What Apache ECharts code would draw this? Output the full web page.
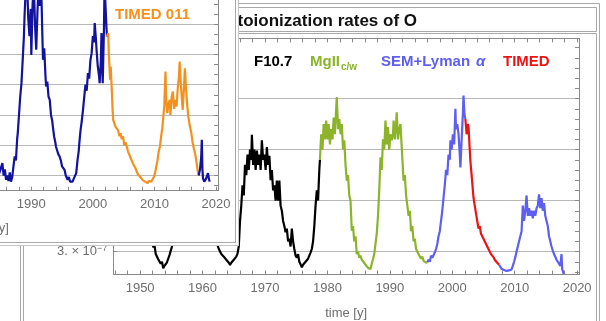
<!DOCTYPE html>
<html><head><meta charset="utf-8">
<script src="https://cdn.jsdelivr.net/npm/echarts@6/dist/echarts.min.js"></script>
<style>html,body{margin:0;padding:0;background:#fff}#c{width:606px;height:321px}</style>
</head><body><div id="c"></div>
<script>
// ---- tick labels ----
const xTickLabels = [1950,1960,1970,1980,1990,2000,2010,2020];
const backYLabels = [3,4,5,6];          // ×10^-7
const frontYGrid = [3,4,5,6,7,8];

// ---- back panel series: [year, rate ×10^-7] ----
const f107 = [[1947.0,5.6],[1947.3,6.0],[1947.6,5.5],[1948.0,5.9],[1948.4,5.3],[1948.8,5.6],[1949.2,5.2],[1949.6,5.5],[1950.0,4.8],[1950.4,4.5],[1950.8,4.2],[1951.2,4.0],[1951.6,3.7],[1951.9,3.4],
[1952.1,3.08],[1952.3,3.12],[1952.5,2.95],[1952.7,2.98],[1952.9,2.85],[1953.1,2.88],[1953.3,2.76],[1953.5,2.80],[1953.7,2.67],[1953.9,2.72],[1954.1,2.70],[1954.3,2.79],[1954.5,2.76],[1954.7,2.93],[1954.9,2.90],[1955.1,3.10],[1955.3,3.35],[1955.6,3.8],[1956.0,4.5],[1956.4,5.3],[1956.8,6.0],[1957.2,6.5],[1957.6,6.9],[1958.0,6.6],[1958.3,6.9],[1958.7,6.4],[1959.0,6.7],[1959.4,6.0],[1959.8,6.2],[1960.2,5.5],[1960.6,5.2],[1961.0,4.6],[1961.4,4.3],[1961.8,3.8],[1962.1,3.5],
[1962.4,3.12],[1962.6,3.05],[1962.8,3.08],[1963.0,2.95],[1963.2,2.98],[1963.4,2.90],[1963.6,2.93],[1963.8,2.84],[1964.0,2.86],[1964.2,2.78],[1964.4,2.74],[1964.6,2.78],[1964.8,2.80],[1965.0,2.84],[1965.2,2.82],[1965.4,2.90],[1965.6,2.96],[1965.8,3.10],[1966.0,3.6],[1966.2,3.9],[1966.4,4.3],[1966.6,4.1],[1966.8,4.7],[1967.0,4.5],[1967.2,4.9],[1967.4,4.6],[1967.6,5.0],[1967.8,4.8],[1967.9,5.29],[1968.1,4.7],[1968.3,5.0],[1968.5,4.6],[1968.7,4.98],[1968.9,4.7],[1969.1,4.9],[1969.3,4.6],[1969.5,5.18],[1969.7,4.8],[1969.9,4.9],[1970.1,4.6],[1970.3,5.05],[1970.5,4.7],[1970.7,4.88],[1970.9,4.4],[1971.1,4.6],[1971.3,4.2],[1971.5,4.3],[1971.7,4.0],[1971.9,4.39],[1972.1,4.0],[1972.3,4.39],[1972.5,3.9],[1972.7,3.8],[1972.9,3.6],[1973.1,3.5],[1973.3,3.38],[1973.5,3.45],[1973.7,3.2],[1973.9,3.25],[1974.1,3.1],[1974.3,3.45],[1974.5,3.2],[1974.7,3.05],[1974.9,2.92],[1975.1,2.88],[1975.3,2.95],[1975.5,2.80],[1975.7,2.75],[1975.9,2.69],[1976.1,2.74],[1976.3,2.72],[1976.5,2.80],[1976.7,2.78],[1976.9,2.86],[1977.1,2.92],[1977.3,2.98],[1977.5,3.05],[1977.7,3.2],[1977.9,3.5],[1978.1,3.9],[1978.3,4.2],[1978.5,4.0],[1978.7,4.6],[1978.8,4.8]];

const mg2 = [[1978.8,4.8],[1979.0,5.3],[1979.2,5.0],[1979.4,5.5],[1979.6,5.2],[1979.8,5.57],[1980.0,5.2],[1980.2,5.5],[1980.4,5.1],[1980.6,5.4],[1980.8,5.2],[1981.0,5.63],[1981.2,5.3],[1981.4,5.8],[1981.5,6.03],[1981.7,5.4],[1981.9,5.6],[1982.1,5.3],[1982.3,5.5],[1982.5,5.0],[1982.7,5.18],[1982.9,4.7],[1983.1,4.39],[1983.3,4.5],[1983.5,4.1],[1983.7,4.0],[1983.9,3.41],[1984.1,3.5],[1984.3,3.2],[1984.5,3.3],[1984.7,2.95],[1984.9,3.0],[1985.1,2.88],[1985.3,2.92],[1985.5,2.84],[1985.7,2.86],[1985.9,2.78],[1986.1,2.74],[1986.3,2.76],[1986.5,2.68],[1986.7,2.70],[1986.9,2.66],[1987.1,2.76],[1987.3,2.85],[1987.5,2.95],[1987.7,3.15],[1987.9,3.35],[1988.1,3.7],[1988.3,4.2],[1988.5,4.85],[1988.7,4.6],[1988.9,5.2],[1989.1,5.0],[1989.3,5.57],[1989.5,5.1],[1989.7,5.44],[1989.9,5.0],[1990.1,5.3],[1990.3,5.18],[1990.5,5.3],[1990.6,5.57],[1990.8,5.2],[1991.0,5.5],[1991.1,5.73],[1991.3,5.2],[1991.5,5.4],[1991.7,5.5],[1991.9,5.05],[1992.1,4.6],[1992.2,4.39],[1992.4,4.5],[1992.6,4.1],[1992.8,3.9],[1993.0,3.7],[1993.2,3.8],[1993.4,3.4],[1993.6,3.5],[1993.8,3.2],[1994.0,3.25],[1994.2,3.05],[1994.4,3.02],[1994.6,2.95],[1994.8,2.98],[1995.0,2.86],[1995.2,2.9],[1995.4,2.82],[1995.6,2.85],[1995.8,2.78],[1996.0,2.79]];

const semLyaA = [[1996.0,2.79],[1996.2,2.84],[1996.4,2.80],[1996.6,2.92],[1996.8,2.88],[1997.0,2.89],[1997.2,2.98],[1997.4,3.05],[1997.6,3.15],[1997.8,3.3],[1998.0,3.4],[1998.2,3.6],[1998.4,3.8],[1998.6,4.06],[1998.8,4.3],[1999.0,4.6],[1999.2,4.5],[1999.4,4.9],[1999.6,4.8],[1999.7,5.18],[1999.9,5.0],[2000.1,5.3],[2000.3,5.1],[2000.5,5.8],[2000.6,5.4],[2000.8,5.5],[2001.0,5.31],[2001.2,4.9],[2001.3,4.65],[2001.5,5.2],[2001.7,5.7],[2001.8,6.06],[2001.95,5.7],[2002.1,5.6]];

const timed = [[2002.1,5.6],[2002.3,5.3],[2002.5,5.5],[2002.6,5.44],[2002.8,5.0],[2002.9,4.78],[2003.1,4.5],[2003.3,4.2],[2003.4,4.06],[2003.6,3.9],[2003.8,3.75],[2004.0,3.6],[2004.2,3.45],[2004.4,3.5],[2004.6,3.35],[2004.8,3.38],[2005.0,3.25],[2005.2,3.28],[2005.4,3.15],[2005.6,3.15],[2005.8,3.05],[2006.0,3.02],[2006.2,2.95],[2006.4,2.92],[2006.6,2.89],[2006.8,2.84],[2007.0,2.82],[2007.2,2.78],[2007.4,2.76],[2007.5,2.74]];

const semLyaB = [[2007.5,2.74],[2007.7,2.70],[2007.9,2.66],[2008.1,2.68],[2008.3,2.64],[2008.5,2.66],[2008.7,2.62],[2008.9,2.64],[2009.1,2.63],[2009.3,2.66],[2009.5,2.65],[2009.7,2.72],[2009.9,2.80],[2010.1,2.89],[2010.3,3.0],[2010.5,3.1],[2010.7,3.2],[2010.9,3.3],[2011.1,3.4],[2011.3,3.9],[2011.5,3.6],[2011.7,3.8],[2011.9,4.1],[2012.1,3.7],[2012.3,3.85],[2012.5,3.7],[2012.7,3.8],[2012.9,3.65],[2013.1,3.8],[2013.3,3.7],[2013.5,3.85],[2013.7,3.9],[2013.9,4.12],[2014.1,3.85],[2014.3,4.05],[2014.5,3.8],[2014.7,3.95],[2014.9,3.7],[2015.1,3.6],[2015.3,3.5],[2015.5,3.3],[2015.7,3.2],[2015.9,3.1],[2016.1,3.02],[2016.3,2.95],[2016.5,2.9],[2016.7,2.84],[2016.9,2.8],[2017.1,2.76],[2017.3,2.72],[2017.5,2.95],[2017.6,2.66],[2017.8,2.58],[2017.9,2.56]];

// ---- inset panel series ----
const insetBlueA = [[1984.5,3.3],[1984.8,3.08],[1985.0,3.2],[1985.3,3.41],[1985.5,3.0],[1985.7,3.2],[1985.9,2.86],[1986.1,3.0],[1986.3,2.82],[1986.5,3.1],[1986.7,2.8],[1986.9,2.95],[1987.1,3.3],[1987.3,3.63],[1987.5,3.5],[1987.7,4.2],[1987.8,4.4],[1988.0,5.0],[1988.2,5.6],[1988.4,6.05],[1988.6,6.8],[1988.8,7.6],[1988.9,8.25],[1989.1,9.2],[1989.3,9.5],[1989.5,8.2],[1989.7,7.6],[1989.9,8.5],[1990.0,6.98],[1990.2,8.6],[1990.4,9.4],[1990.6,8.0],[1990.8,7.15],[1991.0,8.4],[1991.2,9.4],[1991.4,8.6],[1991.6,9.3],[1991.8,7.6],[1991.9,6.82],[1992.1,7.2],[1992.3,6.3],[1992.4,5.94],[1992.6,6.1],[1992.8,5.6],[1993.0,5.5],[1993.2,5.0],[1993.4,4.8],[1993.5,4.62],[1993.7,4.3],[1993.9,4.1],[1994.0,3.96],[1994.2,3.9],[1994.4,3.7],[1994.6,3.63],[1994.8,3.5],[1995.0,3.3],[1995.2,3.35],[1995.4,3.19],[1995.6,3.0],[1995.9,2.86],[1996.1,2.95],[1996.3,2.8],[1996.5,2.85],[1996.7,2.8],[1996.9,2.9],[1997.1,2.85],[1997.3,3.08],[1997.5,3.5],[1997.7,3.8],[1997.8,4.07],[1998.0,4.5],[1998.2,4.8],[1998.4,5.17],[1998.6,5.6],[1998.8,6.0],[1999.0,5.8],[1999.2,6.38],[1999.4,6.2],[1999.6,6.8],[1999.8,7.04],[2000.0,7.6],[2000.2,7.4],[2000.3,8.03],[2000.5,7.5],[2000.6,7.15],[2000.8,6.6],[2001.0,6.3],[2001.1,6.05],[2001.3,6.8],[2001.4,7.7],[2001.5,6.8],[2001.6,6.05],[2001.8,7.8],[2001.9,9.3],[2002.1,8.4],[2002.2,7.92],[2002.3,7.59]];

const timed011 = [[2002.3,7.59],[2002.5,7.7],[2002.6,7.0],[2002.8,6.16],[2002.9,6.6],[2003.1,5.72],[2003.2,5.2],[2003.3,4.84],[2003.5,4.9],[2003.7,4.6],[2003.9,4.62],[2004.1,4.5],[2004.3,4.3],[2004.5,4.4],[2004.7,4.2],[2004.9,4.3],[2005.1,4.0],[2005.3,4.1],[2005.5,3.96],[2005.7,3.8],[2005.9,3.85],[2006.1,3.6],[2006.3,3.63],[2006.5,3.4],[2006.7,3.45],[2006.9,3.25],[2007.1,3.19],[2007.3,3.05],[2007.5,3.1],[2007.7,2.95],[2007.9,2.97],[2008.1,2.85],[2008.3,2.88],[2008.5,2.8],[2008.7,2.8],[2008.9,2.75],[2009.1,2.82],[2009.3,2.76],[2009.5,2.8],[2009.7,2.85],[2009.9,2.95],[2010.1,3.08],[2010.3,3.3],[2010.5,3.5],[2010.7,3.8],[2010.9,3.96],[2011.1,4.3],[2011.3,4.6],[2011.4,4.84],[2011.6,5.3],[2011.8,6.43],[2011.9,5.5],[2012.1,5.06],[2012.3,5.4],[2012.5,5.5],[2012.6,5.0],[2012.8,5.6],[2013.0,5.77],[2013.2,5.2],[2013.4,5.5],[2013.6,5.28],[2013.8,5.9],[2014.0,6.3],[2014.1,6.76],[2014.3,6.0],[2014.5,5.4],[2014.6,5.17],[2014.8,5.9],[2014.95,6.54],[2015.1,6.0],[2015.3,5.4],[2015.5,4.95],[2015.7,4.7],[2015.9,4.5],[2016.0,4.4],[2016.2,4.1],[2016.4,3.9],[2016.6,3.74],[2016.8,3.5],[2017.0,3.2],[2017.1,3.08],[2017.2,3.0]];

const insetBlueB = [[2017.2,3.0],[2017.4,3.2],[2017.6,3.6],[2017.7,4.18],[2017.8,3.2],[2017.9,2.9],[2018.1,2.8],[2018.2,2.75],[2018.4,2.9],[2018.6,2.95],[2018.7,3.08],[2018.9,2.85],[2019.0,2.8]];

// ---- tick position lists ----
const evenYears = []; for (let y = 1946; y <= 2020; y += 2) evenYears.push(y);
const backMinor = []; for (let k = 13; k <= 35; k++) backMinor.push(+(k * 0.2).toFixed(2));
const frontMinor = []; for (let k = 8; k <= 27; k++) frontMinor.push(k / 3);

const FONT = '"Liberation Sans", Arial, sans-serif';
const AX = '#8a8a8a', LBL = '#6e6e6e', GRID = '#b8b8b8';

const chart = echarts.init(document.getElementById('c'), null, {renderer: 'canvas'});

function xAx(grid, min, max, pos, z, labels, extra) {
  return Object.assign({
    gridIndex: grid, type: 'value', min: min, max: max, position: pos, z: z,
    axisLine: {show: true, onZero: false, lineStyle: {color: AX, width: 1}},
    axisTick: {show: true, inside: true, length: 4, customValues: evenYears, lineStyle: {color: AX}},
    axisLabel: labels ? {show: true, customValues: xTickLabels, color: LBL, fontSize: 13, fontFamily: FONT, margin: 7,
      formatter: v => String(v)} : {show: false},
    splitLine: {show: false}
  }, extra || {});
}

const option = {
  animation: false,
  backgroundColor: '#fff',
  grid: [
    {left: 113.3, width: 465.7, top: 38.4, height: 236.1, containLabel: false, outerBoundsMode: 'none'},
    {left: -242, width: 460, top: -10, height: 200.7, containLabel: false, outerBoundsMode: 'none'}
  ],
  xAxis: [
    xAx(0, 1945.7, 2020.3, 'bottom', 1, true, {name: 'time [y]', nameLocation: 'middle', nameGap: 32,
      nameTextStyle: {color: LBL, fontSize: 13, fontFamily: FONT}}),
    xAx(0, 1945.7, 2020.3, 'top', 1, false),
    xAx(1, 1945.6, 2020.33, 'bottom', 11, true, {name: 'time [y]', nameLocation: 'middle', nameGap: 31,
      nameTextStyle: {color: LBL, fontSize: 13, fontFamily: FONT}})
  ],
  yAxis: [
    {gridIndex: 0, type: 'value', min: 2.55, max: 7.18, position: 'left', z: 1,
      axisLine: {show: true, onZero: false, lineStyle: {color: AX}},
      axisTick: {show: true, inside: true, length: 4, customValues: backYLabels, lineStyle: {color: AX}},
      axisLabel: {show: true, customValues: backYLabels, margin: 6,
        formatter: v => '{b|' + v + '. × 10}{s|−7}',
        rich: {b: {color: LBL, fontSize: 13, fontFamily: FONT}, s: {color: LBL, fontSize: 9, fontFamily: FONT, verticalAlign: 'top', padding: [0, 0, 6, 0]}}},
      splitLine: {show: true, lineStyle: {color: GRID, width: 1}}},
    {gridIndex: 0, type: 'value', min: 2.55, max: 7.18, position: 'right', z: 1,
      axisLine: {show: true, onZero: false, lineStyle: {color: AX}},
      axisTick: {show: true, inside: true, length: 4, customValues: backMinor, lineStyle: {color: AX}},
      axisLabel: {show: false}, splitLine: {show: false}},
    {gridIndex: 1, type: 'value', min: 2.5, max: 9.124, position: 'left', z: 11,
      axisLine: {show: true, onZero: false, lineStyle: {color: AX}},
      axisTick: {show: true, inside: true, length: 4, customValues: frontYGrid, lineStyle: {color: AX}},
      axisLabel: {show: false},
      splitLine: {show: true, lineStyle: {color: GRID, width: 1}}},
    {gridIndex: 1, type: 'value', min: 2.5, max: 9.124, position: 'right', z: 11,
      axisLine: {show: true, onZero: false, lineStyle: {color: AX}},
      axisTick: {show: true, inside: true, length: 4, customValues: frontMinor, lineStyle: {color: AX}},
      axisLabel: {show: false}, splitLine: {show: false}}
  ],
  series: [
    {name: 'F10.7', data: f107, color: '#000000', xAxisIndex: 0, yAxisIndex: 0, z: 3},
    {name: 'MgII c/w', data: mg2, color: '#8bb42a', xAxisIndex: 0, yAxisIndex: 0, z: 3},
    {name: 'SEM+Lyman α', data: semLyaA, color: '#5e5ef0', xAxisIndex: 0, yAxisIndex: 0, z: 3},
    {name: 'TIMED', data: timed, color: '#ec1313', xAxisIndex: 0, yAxisIndex: 0, z: 3},
    {name: 'SEM+Lyman α (2)', data: semLyaB, color: '#5e5ef0', xAxisIndex: 0, yAxisIndex: 0, z: 3},
    {name: 'inset A', data: insetBlueA, color: '#12129e', xAxisIndex: 2, yAxisIndex: 2, z: 12},
    {name: 'TIMED 011', data: timed011, color: '#f4901e', xAxisIndex: 2, yAxisIndex: 2, z: 12},
    {name: 'inset B', data: insetBlueB, color: '#12129e', xAxisIndex: 2, yAxisIndex: 2, z: 12}
  ].map(s => Object.assign({type: 'line', showSymbol: false, symbol: 'none', clip: true,
      lineStyle: {color: s.color, width: 2.2}, emphasis: {disabled: true}}, s)),
  graphic: {elements: [
    {type: 'rect', z: 1, silent: true, shape: {x: 20.5, y: 3.5, width: 579, height: 330}, style: {fill: 'none', stroke: '#a8a8a8', lineWidth: 1}},
    {type: 'rect', z: 1, silent: true, shape: {x: 23.5, y: 7.5, width: 573, height: 24}, style: {fill: 'none', stroke: '#a8a8a8', lineWidth: 1}},
    {type: 'rect', z: 1, silent: true, shape: {x: 23.5, y: 33.5, width: 573, height: 300}, style: {fill: 'none', stroke: '#a8a8a8', lineWidth: 1}},
    {type: 'text', z: 2, silent: true, x: 417, y: 21, style: {text: 'Photoionization rates of O', font: 'bold 17px ' + FONT, fill: '#111',
      align: 'right', verticalAlign: 'middle', textAlign: 'right', textVerticalAlign: 'middle'}},
    {type: 'text', z: 4, silent: true, x: 254, y: 61.5, style: {text: 'F10.7', font: 'bold 15px ' + FONT, fill: '#000', verticalAlign: 'middle', textVerticalAlign: 'middle'}},
    {type: 'text', z: 4, silent: true, x: 310, y: 61.5, style: {text: 'MgII', font: 'bold 15px ' + FONT, fill: '#8bb42a', verticalAlign: 'middle', textVerticalAlign: 'middle'}},
    {type: 'text', z: 4, silent: true, x: 341, y: 67, style: {text: 'c/w', font: 'bold 10px ' + FONT, fill: '#8bb42a', verticalAlign: 'middle', textVerticalAlign: 'middle'}},
    {type: 'text', z: 4, silent: true, x: 381, y: 61.5, style: {text: 'SEM+Lyman ', font: 'bold 15px ' + FONT, fill: '#5e5ef0', verticalAlign: 'middle', textVerticalAlign: 'middle'}},
    {type: 'text', z: 4, silent: true, x: 476, y: 61.5, style: {text: 'α', font: 'italic bold 15px ' + FONT, fill: '#5e5ef0', verticalAlign: 'middle', textVerticalAlign: 'middle'}},
    {type: 'text', z: 4, silent: true, x: 503, y: 61.5, style: {text: 'TIMED', font: 'bold 15px ' + FONT, fill: '#ec1313', verticalAlign: 'middle', textVerticalAlign: 'middle'}},
    {type: 'rect', z: 10, silent: true, shape: {x: -5, y: -5, width: 244, height: 251}, style: {fill: '#fff', stroke: 'none'}},
    {type: 'line', z: 14, silent: true, shape: {x1: 235.5, y1: 0, x2: 235.5, y2: 243}, style: {stroke: '#a8a8a8', lineWidth: 1}},
    {type: 'line', z: 14, silent: true, shape: {x1: 238.5, y1: 0, x2: 238.5, y2: 246}, style: {stroke: '#c4c4c4', lineWidth: 1}},
    {type: 'line', z: 14, silent: true, shape: {x1: 0, y1: 242.5, x2: 236, y2: 242.5}, style: {stroke: '#a8a8a8', lineWidth: 1}},
    {type: 'line', z: 14, silent: true, shape: {x1: 0, y1: 245.5, x2: 239, y2: 245.5}, style: {stroke: '#c4c4c4', lineWidth: 1}},
    {type: 'text', z: 13, silent: true, x: 115, y: 15, style: {text: 'TIMED 011', font: 'bold 15px ' + FONT, fill: '#f4901e', verticalAlign: 'middle', textVerticalAlign: 'middle'}}
  ]}
};
chart.setOption(option);
</script>
</body></html>
